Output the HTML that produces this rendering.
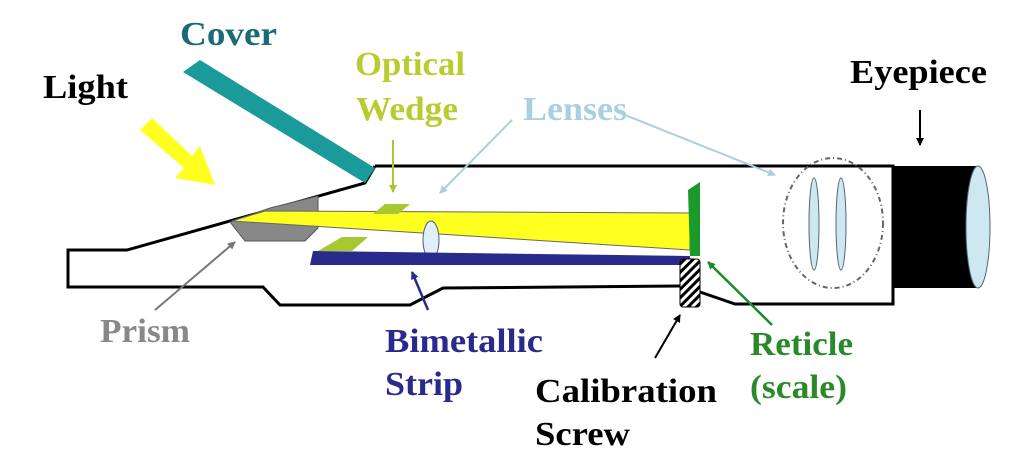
<!DOCTYPE html>
<html><head><meta charset="utf-8"><style>
body{margin:0;background:#fff;width:1024px;height:466px;overflow:hidden}
svg text{font-family:"Liberation Serif",serif;font-weight:bold;font-size:34px}
</style></head><body>
<svg width="1024" height="466" viewBox="0 0 1024 466" xmlns="http://www.w3.org/2000/svg">
<defs>
<pattern id="h" width="6" height="6" patternUnits="userSpaceOnUse" patternTransform="rotate(45)"><rect width="6" height="6" fill="#fff"/><rect width="3" height="6" fill="#000"/></pattern>
<marker id="a" markerWidth="8" markerHeight="8" refX="7" refY="4" orient="auto" markerUnits="userSpaceOnUse"><path d="M0,0L8,4L0,8z" fill="context-stroke"/></marker>
</defs>
<path d="M375,166 L893,166 L893,304 L735,304 L700,292 M680,286 L443,288 L410,305 L280,305 L263,287 L68,287 L68,250 L127,250 L365,183 L375,166" fill="none" stroke="#000" stroke-width="3"/>
<polygon points="183,72,200,60,375,168,365,183" fill="#1a9a9a"/>
<polygon points="140,130,152,118,192,156,200,146,215,185,175,178,184,168" fill="#ffff20"/>
<polygon points="230,222,270,208,318,196,318,228,305,241,245,241" fill="#888" stroke="#555"/>
<polygon points="232,221,265,211,690,213,690,250" fill="#ffff20" stroke="#666" stroke-width="1"/>
<polygon points="373,214,385,204,410,204,398,214" fill="#a8c830"/>
<polygon points="318,251,342,237,368,237,352,251" fill="#a8c830"/>
<ellipse cx="431" cy="240" rx="8" ry="19" fill="#dff0f8" stroke="#557"/>
<polygon points="313,251,690,256,690,265,310,265" fill="#2a2a8a"/>
<polygon points="688,190,700,182,700,256,690,256" fill="#1a9a2a"/>
<rect x="680" y="259" width="20" height="48" rx="3" fill="url(#h)" stroke="#000"/>
<ellipse cx="833" cy="223" rx="50" ry="65" fill="none" stroke="#666" stroke-width="2" stroke-dasharray="5,3,1,3"/>
<ellipse cx="814" cy="224" rx="5" ry="46" fill="#cde8f0" stroke="#567"/>
<ellipse cx="841" cy="224" rx="5" ry="46" fill="#cde8f0" stroke="#567"/>
<rect x="893" y="166" width="85" height="122" fill="#000"/>
<ellipse cx="978" cy="227" rx="12" ry="61" fill="#cde8f0" stroke="#567"/>
<line x1="393" y1="140" x2="393" y2="192" stroke="#a8c830" stroke-width="2" marker-end="url(#a)"/>
<line x1="512" y1="120" x2="440" y2="193" stroke="#a8d0e0" stroke-width="2" marker-end="url(#a)"/>
<line x1="625" y1="115" x2="775" y2="175" stroke="#a8d0e0" stroke-width="2" marker-end="url(#a)"/>
<line x1="920" y1="110" x2="920" y2="145" stroke="#000" stroke-width="2" marker-end="url(#a)"/>
<line x1="155" y1="310" x2="235" y2="242" stroke="#777" stroke-width="2" marker-end="url(#a)"/>
<line x1="428" y1="310" x2="412" y2="272" stroke="#2a2a8a" stroke-width="2.5" marker-end="url(#a)"/>
<line x1="655" y1="358" x2="680" y2="315" stroke="#000" stroke-width="2" marker-end="url(#a)"/>
<line x1="772" y1="325" x2="708" y2="262" stroke="#1a8a2a" stroke-width="2.5" marker-end="url(#a)"/>
<text x="180" y="45" fill="#1a6a7a" textLength="97" lengthAdjust="spacingAndGlyphs">Cover</text>
<text x="43" y="98" fill="#000" textLength="85" lengthAdjust="spacingAndGlyphs">Light</text>
<text x="355" y="75" fill="#b8cc30" textLength="110" lengthAdjust="spacingAndGlyphs">Optical</text>
<text x="356" y="120" fill="#b8cc30" textLength="102" lengthAdjust="spacingAndGlyphs">Wedge</text>
<text x="523" y="120" fill="#a8d0e0" textLength="104" lengthAdjust="spacingAndGlyphs">Lenses</text>
<text x="850" y="83" fill="#000" textLength="137" lengthAdjust="spacingAndGlyphs">Eyepiece</text>
<text x="100" y="342" fill="#888" textLength="90" lengthAdjust="spacingAndGlyphs">Prism</text>
<text x="385" y="352" fill="#2a2a8a" textLength="158" lengthAdjust="spacingAndGlyphs">Bimetallic</text>
<text x="385" y="395" fill="#2a2a8a" textLength="78" lengthAdjust="spacingAndGlyphs">Strip</text>
<text x="535" y="402" fill="#000" textLength="182" lengthAdjust="spacingAndGlyphs">Calibration</text>
<text x="535" y="445" fill="#000" textLength="95" lengthAdjust="spacingAndGlyphs">Screw</text>
<text x="750" y="355" fill="#2a8a2a" textLength="103" lengthAdjust="spacingAndGlyphs">Reticle</text>
<text x="750" y="398" fill="#2a8a2a" textLength="97" lengthAdjust="spacingAndGlyphs">(scale)</text>
</svg>
</body></html>
